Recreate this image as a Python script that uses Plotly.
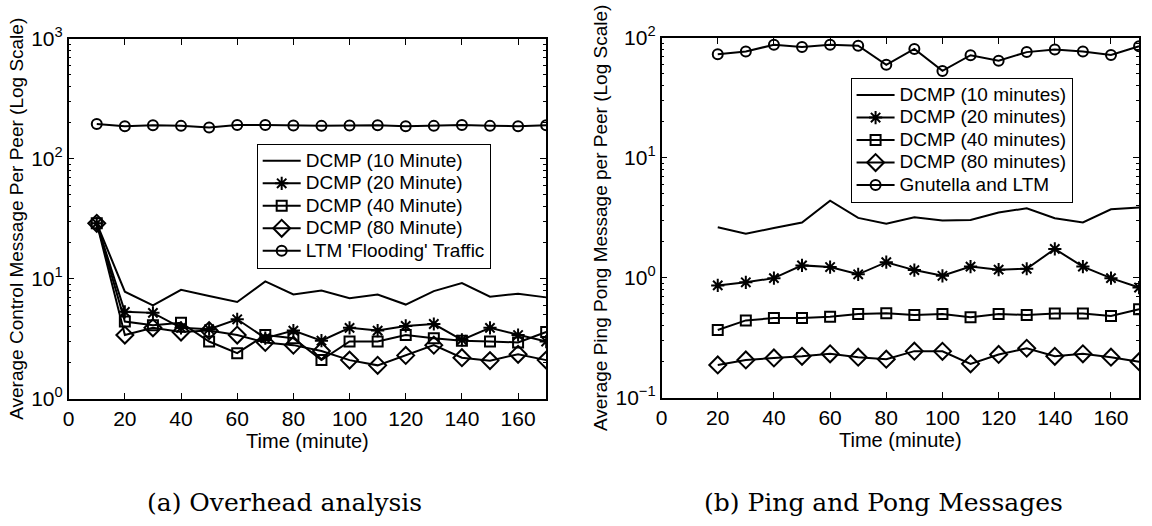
import plotly.graph_objects as go

# ---------------- data ----------------
time_a = [10, 20, 30, 40, 50, 60, 70, 80, 90, 100, 110, 120, 130, 140, 150, 160, 170]
a_dcmp10 = [29, 7.8, 6.0, 8.1, 7.2, 6.4, 9.5, 7.4, 8.0, 6.9, 7.4, 6.1, 7.9, 9.2, 7.1, 7.5, 7.0]
a_dcmp20 = [29, 5.3, 5.2, 3.9, 3.8, 4.6, 3.2, 3.7, 3.05, 3.9, 3.7, 4.05, 4.2, 3.1, 3.9, 3.4, 3.0]
a_dcmp40 = [29, 4.4, 4.1, 4.3, 3.0, 2.4, 3.4, 3.2, 2.1, 3.0, 3.0, 3.4, 3.2, 3.05, 3.0, 2.95, 3.6]
a_dcmp80 = [29, 3.4, 3.9, 3.6, 3.7, 3.4, 2.95, 2.8, 2.5, 2.1, 1.9, 2.3, 2.8, 2.2, 2.08, 2.35, 2.1]
a_ltm = [195, 187, 190, 188, 182, 191, 191, 189, 188, 189, 190, 187, 188, 191, 188, 187, 190]

time_b = [20, 30, 40, 50, 60, 70, 80, 90, 100, 110, 120, 130, 140, 150, 160, 170]
b_dcmp10 = [2.64, 2.33, 2.6, 2.89, 4.4, 3.16, 2.83, 3.2, 3.01, 3.03, 3.5, 3.8, 3.14, 2.89, 3.73, 3.85]
b_dcmp20 = [0.865, 0.918, 0.994, 1.27, 1.23, 1.07, 1.35, 1.16, 1.04, 1.24, 1.17, 1.19, 1.74, 1.24, 0.994, 0.83]
b_dcmp40 = [0.368, 0.442, 0.462, 0.462, 0.475, 0.5, 0.506, 0.49, 0.5, 0.47, 0.5, 0.49, 0.505, 0.505, 0.48, 0.547]
b_dcmp80 = [0.188, 0.207, 0.215, 0.222, 0.233, 0.218, 0.21, 0.245, 0.244, 0.192, 0.23, 0.259, 0.222, 0.233, 0.218, 0.2]
b_gnut = [73, 77, 87.5, 84, 87.5, 86, 59.6, 80.7, 53, 71.6, 64.5, 76, 79.8, 77, 72, 85]

names_a = ["DCMP (10 Minute)", "DCMP (20 Minute)", "DCMP (40 Minute)", "DCMP (80 Minute)", "LTM 'Flooding' Traffic"]
names_b = ["DCMP (10 minutes)", "DCMP (20 minutes)", "DCMP (40 minutes)", "DCMP (80 minutes)", "Gnutella and LTM"]

x_ticks = [0, 20, 40, 60, 80, 100, 120, 140, 160]
ya_ticks = [1, 10, 100, 1000]
ya_text = ["10<sup>0</sup>", "10<sup>1</sup>", "10<sup>2</sup>", "10<sup>3</sup>"]
yb_ticks = [0.1, 1, 10, 100]
yb_text = ["10<sup>\u22121</sup>", "10<sup>0</sup>", "10<sup>1</sup>", "10<sup>2</sup>"]

captions = ["(a) Overhead analysis", "(b) Ping and Pong Messages"]

# ---------------- figure ----------------
BLACK = "black"
SANS = "Liberation Sans"

styles = [
    dict(mode="lines", marker=None),
    dict(mode="lines+markers", marker=dict(symbol="asterisk-open", size=11, line=dict(width=2, color=BLACK), color=BLACK)),
    dict(mode="lines+markers", marker=dict(symbol="square-open", size=10, line=dict(width=2, color=BLACK), color=BLACK)),
    dict(mode="lines+markers", marker=dict(symbol="diamond-open", size=13, line=dict(width=2, color=BLACK), color=BLACK)),
    dict(mode="lines+markers", marker=dict(symbol="circle-open", size=10, line=dict(width=2, color=BLACK), color=BLACK)),
]


def legend_label(txt):
    return '<span style="font-size:19px">' + txt + "</span>"


fig = go.Figure()

series_a = [a_dcmp10, a_dcmp20, a_dcmp40, a_dcmp80, a_ltm]
for name, ys, st in zip(names_a, series_a, styles):
    kw = dict(x=time_a, y=ys, name=legend_label(name), mode=st["mode"], line=dict(color=BLACK, width=2),
              xaxis="x", yaxis="y", legend="legend")
    if st["marker"]:
        kw["marker"] = st["marker"]
    fig.add_trace(go.Scatter(**kw))

series_b = [b_dcmp10, b_dcmp20, b_dcmp40, b_dcmp80, b_gnut]
for name, ys, st in zip(names_b, series_b, styles):
    kw = dict(x=time_b, y=ys, name=legend_label(name), mode=st["mode"], line=dict(color=BLACK, width=2),
              xaxis="x2", yaxis="y2", legend="legend2")
    if st["marker"]:
        kw["marker"] = st["marker"]
    fig.add_trace(go.Scatter(**kw))


def minor_vals(lo_exp, hi_exp):
    vals = []
    for e in range(lo_exp, hi_exp):
        for m in range(2, 10):
            vals.append(m * 10 ** e)
    return vals


common_x = dict(range=[0, 170], tickmode="array", tickvals=x_ticks, ticks="inside", ticklen=6,
                tickwidth=1, tickcolor=BLACK, showline=True, linecolor=BLACK, linewidth=1.5,
                mirror="ticks", showgrid=False, zeroline=False,
                tickfont=dict(family=SANS, size=21, color=BLACK),
                title=dict(text="Time (minute)", font=dict(family=SANS, size=20, color=BLACK), standoff=0))

common_y = dict(type="log", ticks="inside", ticklen=6, tickwidth=1, tickcolor=BLACK,
                showline=True, linecolor=BLACK, linewidth=1.5, mirror="ticks",
                showgrid=False, zeroline=False,
                tickfont=dict(family=SANS, size=21, color=BLACK))

legend_common = dict(xanchor="left", yanchor="top", bgcolor="white", bordercolor=BLACK, borderwidth=1,
                     font=dict(family=SANS, size=15, color=BLACK), tracegroupgap=0, itemwidth=38)

fig.update_layout(
    width=1152, height=526,
    margin=dict(l=0, r=0, t=0, b=0),
    paper_bgcolor="white", plot_bgcolor="white",
    showlegend=True,
    xaxis=dict(domain=[63 / 1152, 543 / 1152], anchor="y", **common_x),
    yaxis=dict(domain=[1 - 404 / 526, 1 - 26 / 526], anchor="x", range=[0, 3],
               tickmode="array", tickvals=ya_ticks, ticktext=ya_text,
               minor=dict(tickmode="array", tickvals=minor_vals(0, 3), ticks="inside", ticklen=3,
                          tickcolor=BLACK, showgrid=False),
               title=dict(text="Average Control Message Per Peer (Log Scale)",
                          font=dict(family=SANS, size=19, color=BLACK), standoff=3),
               **common_y),
    xaxis2=dict(domain=[659 / 1152, 1139 / 1152], anchor="y2", **common_x),
    yaxis2=dict(domain=[1 - 403 / 526, 1 - 25 / 526], anchor="x2", range=[-1, 2],
                tickmode="array", tickvals=yb_ticks, ticktext=yb_text,
                minor=dict(tickmode="array", tickvals=minor_vals(-1, 2), ticks="inside", ticklen=3,
                           tickcolor=BLACK, showgrid=False),
                title=dict(text="Average Ping Pong Message per Peer (Log Scale)",
                           font=dict(family=SANS, size=19, color=BLACK), standoff=3),
                **common_y),
    legend=dict(x=252 / 1152, y=1 - 136 / 526, **legend_common),
    legend2=dict(x=849 / 1152, y=1 - 67 / 526, **legend_common),
)

cap_x = [280 / 1152, 882 / 1152]
for cx, txt in zip(cap_x, captions):
    fig.add_annotation(x=cx, y=1 - 513 / 526, xref="paper", yref="paper", text=txt,
                       showarrow=False, xanchor="center", yanchor="middle",
                       font=dict(family="DejaVu Serif", size=25, color=BLACK))

fig.write_html("out.html")
